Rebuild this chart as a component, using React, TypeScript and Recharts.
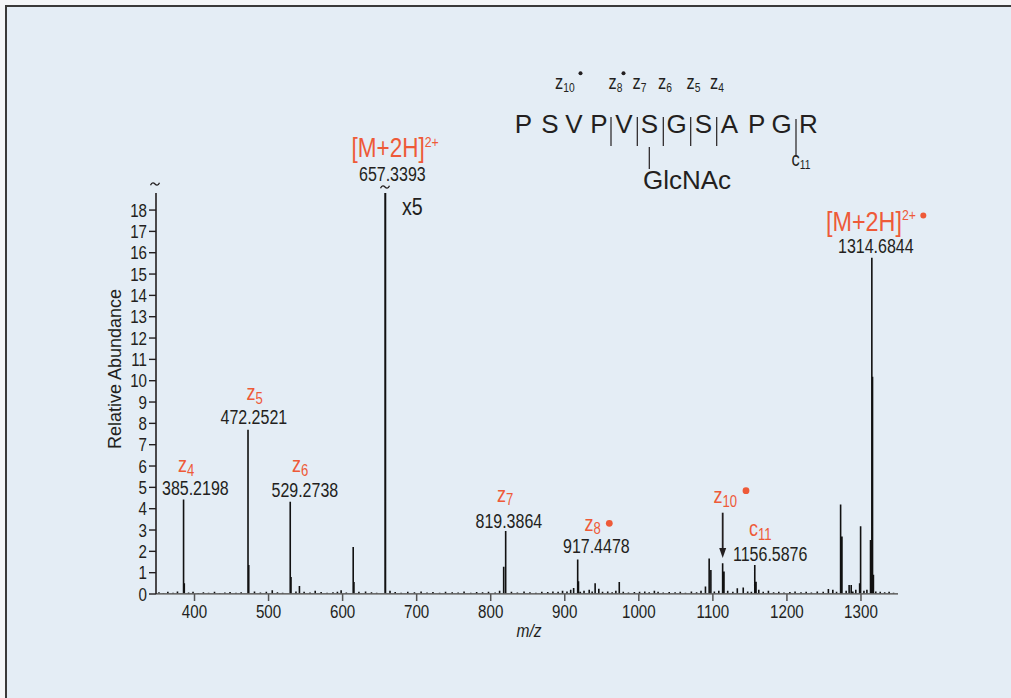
import React from 'react';
import { LineChart, Line, XAxis, YAxis } from 'recharts';

// m/z axis
const mzDomain = [348, 1350];
const mzTicks = [400, 500, 600, 700, 800, 900, 1000, 1100, 1200, 1300];
// relative abundance axis (top is a broken axis, peak at 657 goes off scale)
const abundanceMax = 18.8;
const abundanceTicks = [0, 1, 2, 3, 4, 5, 6, 7, 8, 9, 10, 11, 12, 13, 14, 15, 16, 17, 18];

// labelled fragment peaks and their isotope shoulders
const peakMz = [
  385.22, 386.2, 472.25, 473.25, 529.27, 530.3, 541.7, 614.3, 615.3, 657.34, 657.9,
  817.5, 820.2, 917.45, 918.5, 941, 973.6, 1095, 1097.3, 1113.2, 1115, 1156.59, 1158.3,
  1272.5, 1274.3, 1286.8, 1298.2, 1299.5, 1312.9, 1314.68, 1315.6, 1316.8,
];
const peakAbundance = [
  4.43, 0.5, 7.7, 1.36, 4.32, 0.8, 0.37, 2.2, 0.56, 18.8, 18.8,
  1.28, 2.95, 1.62, 0.6, 0.5, 0.56, 1.67, 1.12, 1.44, 1.05, 1.36, 0.58,
  4.2, 2.7, 0.42, 0.5, 3.18, 2.53, 15.77, 10.18, 0.9,
];

// baseline noise
const noiseMz = [
  352, 358, 364, 371, 377, 392, 398, 405, 412, 419, 427, 434, 441, 448, 456, 463, 481, 489,
  497, 505, 512, 519, 537, 548, 556, 563, 571, 579, 587, 593, 598, 605, 622, 631, 639, 646,
  664, 671, 679, 688, 697, 706, 714, 722, 731, 739, 748, 756, 764, 773, 781, 789, 797, 806,
  812, 828, 836, 845, 853, 861, 869, 877, 884, 891, 897, 903, 908, 912, 921, 926, 933, 937,
  946, 951, 958, 964, 969, 979, 986, 994, 1001, 1008, 1014, 1021, 1026, 1033, 1041, 1049,
  1056, 1063, 1071, 1078, 1084, 1090, 1102, 1108, 1120, 1127, 1133, 1141, 1147, 1152, 1162,
  1168, 1175, 1182, 1189, 1196, 1204, 1211, 1219, 1226, 1233, 1241, 1249, 1256, 1262, 1267,
  1280, 1284, 1289, 1293, 1304, 1308, 1320, 1326, 1332, 1338, 1344,
];
const noiseAbundance = [
  0.08, 0.05, 0.1, 0.06, 0.12, 0.07, 0.1, 0.05, 0.08, 0.06, 0.1, 0.05, 0.07, 0.09, 0.06, 0.08, 0.12, 0.07,
  0.1, 0.18, 0.08, 0.06, 0.12, 0.1, 0.07, 0.15, 0.09, 0.06, 0.08, 0.1, 0.18, 0.07, 0.1, 0.12, 0.08, 0.06,
  0.15, 0.09, 0.06, 0.1, 0.08, 0.12, 0.07, 0.09, 0.06, 0.1, 0.08, 0.07, 0.12, 0.06, 0.09, 0.08, 0.1, 0.07,
  0.15, 0.1, 0.07, 0.12, 0.08, 0.06, 0.1, 0.09, 0.12, 0.1, 0.15, 0.12, 0.2, 0.28, 0.1, 0.15, 0.2, 0.12,
  0.25, 0.1, 0.12, 0.08, 0.15, 0.1, 0.07, 0.09, 0.1, 0.12, 0.08, 0.15, 0.1, 0.07, 0.09, 0.08,
  0.1, 0.06, 0.12, 0.08, 0.15, 0.35, 0.12, 0.15, 0.15, 0.1, 0.27, 0.31, 0.12, 0.1, 0.2,
  0.1, 0.15, 0.08, 0.1, 0.07, 0.09, 0.12, 0.08, 0.1, 0.07, 0.12, 0.1, 0.23, 0.2, 0.1,
  0.15, 0.42, 0.12, 0.2, 0.15, 0.2, 0.12, 0.1, 0.08, 0.1, 0.06,
];

// stick spectrum: every peak goes up from the baseline and back down
const sticks = [
  ...peakMz.map((mz, i) => ({ mz, v: peakAbundance[i] })),
  ...noiseMz.map((mz, i) => ({ mz, v: noiseAbundance[i] })),
].sort((a, b) => a.mz - b.mz);
const spectrum = [{ mz: mzDomain[0], v: 0 }];
sticks.forEach((s) => {
  spectrum.push({ mz: s.mz, v: 0 }, { mz: s.mz, v: s.v }, { mz: s.mz, v: 0 });
});
spectrum.push({ mz: mzDomain[1], v: 0 });

const RED = '#ee5a38';
const INK = '#231f20';
const SANS = "'Liberation Sans', Arial, Helvetica, sans-serif";
const SQUEEZE = 0.82; // Helvetica Condensed look

// narrow text: regular sans squeezed horizontally
const NText = ({ x, y, size = 19, fill = INK, anchor = 'start', italic = false, dy, children }: any) => (
  <text
    transform={`translate(${x},${y}) scale(${SQUEEZE},1)`}
    textAnchor={anchor}
    dy={dy}
    fontFamily={SANS}
    fontSize={size}
    fontStyle={italic ? 'italic' : 'normal'}
    fill={fill}
  >
    {children}
  </text>
);

const Ion = ({ x, y, base, sub, size = 22, subSize = 16, color = RED }: any) => (
  <NText x={x} y={y} size={size} fill={color}>
    {base}
    <tspan fontSize={subSize} dy={3.5}>{sub}</tspan>
  </NText>
);

const Mass = ({ x, y, children }: any) => <NText x={x} y={y} size={19.5}>{children}</NText>;

// axis-break squiggle
const Squiggle = ({ x, y }: any) => (
  <path
    d={`M${x - 4.5},${y + 1.2} C${x - 3},${y - 2.2} ${x - 1.2},${y - 1.4} ${x},${y} S${x + 3},${y + 2.2} ${x + 4.5},${y - 1.2}`}
    fill="none"
    stroke={INK}
    strokeWidth={1.3}
  />
);

const XTick = ({ x, y, payload }: any) => (
  <NText x={x} y={y} size={18.5} anchor="middle" dy="0.71em">{payload.value}</NText>
);
const YTick = ({ x, y, payload }: any) => (
  <NText x={x} y={y} size={18.5} anchor="end" dy="0.355em">{payload.value}</NText>
);

const seqLetters = ['P', 'S', 'V', 'P', 'V', 'S', 'G', 'S', 'A', 'P', 'G', 'R'];
const seqX = [523.5, 550, 574, 599, 624, 649.3, 676.7, 703.3, 729.3, 756.7, 781.7, 808.5];
const cutX = [611, 637.3, 663.3, 690.7, 716.7];

const Overlay = () => (
  <svg width={1011} height={698} style={{ position: 'absolute', left: 0, top: 0, pointerEvents: 'none' }}>
    {/* axis titles */}
    <text transform="translate(120.5,369) rotate(-90)" textAnchor="middle" fontFamily={SANS} fontSize={18} fill={INK}>
      Relative Abundance
    </text>
    <NText x={529} y={637} anchor="middle" italic size={19}>m/z</NText>

    {/* axis break marks */}
    <Squiggle x={155} y={184} />
    <Squiggle x={385} y={187} />
    <NText x={402} y={215} size={24}>x5</NText>

    {/* peak annotations */}
    <Ion x={178} y={472} base="z" sub="4" />
    <Mass x={162} y={495}>385.2198</Mass>
    <Ion x={246.5} y={400} base="z" sub="5" />
    <Mass x={220.5} y={424}>472.2521</Mass>
    <Ion x={292} y={472} base="z" sub="6" />
    <Mass x={271.5} y={496.7}>529.2738</Mass>

    <NText x={351.5} y={156.5} size={27.5} fill={RED}>
      [M+2H]<tspan fontSize={15} dy={-10}>2+</tspan>
    </NText>
    <Mass x={359} y={181.2}>657.3393</Mass>

    <Ion x={497} y={501.7} base="z" sub="7" />
    <Mass x={475.5} y={528.3}>819.3864</Mass>
    <Ion x={584.5} y={530.7} base="z" sub="8" />
    <circle cx={609.3} cy={523.3} r={3.4} fill={RED} />
    <Mass x={563} y={553.3}>917.4478</Mass>

    <Ion x={713.5} y={503.3} base="z" sub="10" />
    <circle cx={746} cy={490.7} r={3.4} fill={RED} />
    <line x1={722.7} y1={512.7} x2={722.7} y2={550} stroke={INK} strokeWidth={1.8} />
    <path d="M719.2,548 L726.2,548 L722.7,558 Z" fill={INK} />
    <Ion x={749} y={536} base="c" sub="11" />
    <Mass x={733} y={560.7}>1156.5876</Mass>

    <NText x={826} y={231} size={28.5} fill={RED}>
      [M+2H]<tspan fontSize={15} dy={-10.6}>2+</tspan>
    </NText>
    <circle cx={923.3} cy={215.5} r={3} fill={RED} />
    <Mass x={838} y={253}>1314.6844</Mass>

    {/* peptide sequence with fragment cleavage sites */}
    {seqLetters.map((l, i) => (
      <text key={i} x={seqX[i]} y={132.5} textAnchor="middle" fontFamily={SANS} fontSize={26} fill={INK}>{l}</text>
    ))}
    {cutX.map((x, i) => (
      <line key={i} x1={x} y1={117} x2={x} y2={146} stroke={INK} strokeWidth={1.2} />
    ))}
    <line x1={796} y1={119} x2={796} y2={157} stroke={INK} strokeWidth={1.2} />
    <line x1={649.3} y1={147} x2={649.3} y2={169} stroke={INK} strokeWidth={1.2} />
    <text x={643} y={189} fontFamily={SANS} fontSize={26} fill={INK}>GlcNAc</text>

    <Ion x={555} y={88.5} base="z" sub="10" size={20} subSize={12.5} color={INK} />
    <circle cx={580.5} cy={73.3} r={2} fill={INK} />
    <Ion x={608.5} y={88.5} base="z" sub="8" size={20} subSize={12.5} color={INK} />
    <circle cx={623.5} cy={73.3} r={2} fill={INK} />
    <Ion x={632.5} y={88.5} base="z" sub="7" size={20} subSize={12.5} color={INK} />
    <Ion x={658} y={88.5} base="z" sub="6" size={20} subSize={12.5} color={INK} />
    <Ion x={686.5} y={88.5} base="z" sub="5" size={20} subSize={12.5} color={INK} />
    <Ion x={710} y={88.5} base="z" sub="4" size={20} subSize={12.5} color={INK} />
    <Ion x={791.5} y={165.5} base="c" sub="11" size={20} subSize={12.5} color={INK} />
  </svg>
);

export default function App() {
  return (
    <div style={{ position: 'relative', width: 1011, height: 698, background: '#f4f6f8', overflow: 'hidden' }}>
      <style>{'body{margin:0}'}</style>
      <div
        style={{
          position: 'absolute', left: 5, top: 5, width: 1010, height: 700,
          background: '#e4edf5', borderTop: '2px solid #3a3a3a', borderLeft: '2px solid #3a3a3a',
        }}
      />
      <div style={{ position: 'absolute', left: 0, top: 0 }}>
        <LineChart width={1011} height={698} data={spectrum} margin={{ top: 193, right: 113, bottom: 74, left: 96 }}>
          <XAxis
            dataKey="mz"
            type="number"
            domain={mzDomain}
            ticks={mzTicks}
            allowDataOverflow
            height={30}
            tickSize={7}
            tickMargin={4}
            axisLine={{ stroke: '#7a7a7a', strokeWidth: 1.5 }}
            tickLine={{ stroke: '#555', strokeWidth: 1.5 }}
            tick={<XTick />}
          />
          <YAxis
            type="number"
            domain={[0, abundanceMax]}
            ticks={abundanceTicks}
            allowDataOverflow
            interval={0}
            width={60}
            tickSize={7}
            tickMargin={2}
            axisLine={{ stroke: INK, strokeWidth: 1.6 }}
            tickLine={{ stroke: INK, strokeWidth: 1.4 }}
            tick={<YTick />}
          />
          <Line
            dataKey="v"
            type="linear"
            stroke="#111"
            strokeWidth={1.6}
            dot={false}
            activeDot={false}
            isAnimationActive={false}
          />
        </LineChart>
      </div>
      <Overlay />
    </div>
  );
}
